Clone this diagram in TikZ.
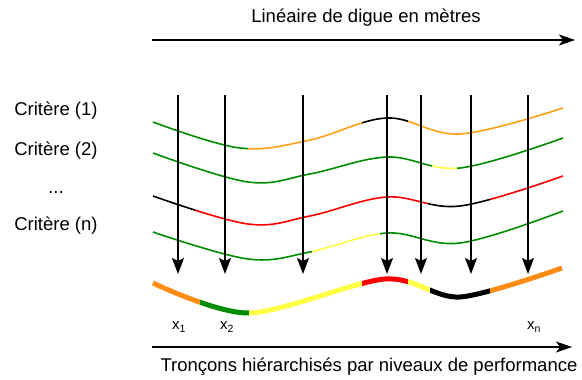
\documentclass[tikz,border=0pt]{standalone}
\usepackage{fontspec}
\setmainfont{Liberation Sans}
\usepackage{xcolor}
\usetikzlibrary{arrows.meta}

\definecolor{critgreen}{RGB}{0,140,0}
\definecolor{critorange}{RGB}{255,160,20}
\definecolor{darkorange}{RGB}{255,140,20}
\definecolor{crityellow}{RGB}{255,255,70}
\definecolor{critred}{RGB}{255,0,0}

\tikzset{
  crit/.style={line width=1.6pt},
  axisarrow/.style={line width=1.4pt,-{Stealth[length=16pt,width=11pt,inset=4pt]}},
  probe/.style={line width=1.5pt,-{Stealth[length=16pt,width=12pt,inset=3pt]}},
  lbl/.style={font=\fontsize{18.5}{22}\selectfont,inner sep=0pt}
}

\begin{document}
\begin{tikzpicture}[x=1pt,y=-1pt]
  \useasboundingbox (0,0) rectangle (582,380);
  % axes
  \node[lbl] (top) at (366,18) {Linéaire de digue en mètres};
  \coordinate (ta) at (152,40);
  \coordinate (tb) at (575,40);
  \draw[axisarrow] (ta) -- (tb);
  \node[lbl] (bot) at (369,367) {Tronçons hiérarchisés par niveaux de performance};
  \coordinate (ba) at (152,347);
  \coordinate (bb) at (572,347);
  \draw[axisarrow] (ba) -- (bb);
  % criteria labels
  \node[lbl] (c1) at (56,111) {Critère (1)};
  \node[lbl] (c2) at (56,151) {Critère (2)};
  \node[lbl] (cd) at (56,193) {...};
  \node[lbl] (cn) at (56,226) {Critère (n)};
  % criteria curves
  \def\curveA{(153,122) (240,148) (310,140) (387,118) (460,134) (563,108)}
  \def\curveB{(153,153) (248,182) (310,174) (387,157) (460,168) (563,138)}
  \def\curveC{(153,196) (248,224) (310,216) (387,197) (460,206) (563,176)}
  \def\curveD{(153,232) (248,259) (310,252) (387,233) (460,243) (563,211)}
  \foreach \crv/\col/\xa/\xb in {
      \curveA/critgreen/140/248, \curveA/critorange/248/362,
      \curveA/black/362/408, \curveA/critorange/408/580,
      \curveB/critgreen/140/432, \curveB/crityellow/432/457,
      \curveB/critgreen/457/580,
      \curveC/black/140/195, \curveC/critred/195/428,
      \curveC/black/428/490, \curveC/critred/490/580,
      \curveD/critgreen/140/312, \curveD/crityellow/312/380,
      \curveD/critgreen/380/580}{
    \begin{scope}
      \clip (\xa,60) rectangle (\xb,330);
      \draw[crit,\col] plot[smooth,tension=0.6] coordinates {\crv};
    \end{scope}
  }
  % synthesis curve
  \def\curveS{(153,283) (249,313) (385,279) (460,297) (562,268)}
  \foreach \col/\xa/\xb in {darkorange/140/200, critgreen/200/249,
      crityellow/249/362, critred/362/408, crityellow/408/430,
      black/430/490, darkorange/490/580}{
    \begin{scope}
      \clip (\xa,60) rectangle (\xb,330);
      \draw[line width=5pt,\col] plot[smooth,tension=0.5] coordinates {\curveS};
    \end{scope}
  }
  % probes
  \foreach \x [count=\i] in {178,225,303,387,421,471,528}{
    \coordinate (p\i) at (\x,95);
    \coordinate (q\i) at (\x,274);
    \draw[probe] (p\i) -- (q\i);
  }
  \node[font=\fontsize{15}{18}\selectfont] (x1) at (179,327) {x\textsubscript{1}};
  \node[font=\fontsize{15}{18}\selectfont] (x2) at (227,327) {x\textsubscript{2}};
  \node[font=\fontsize{15}{18}\selectfont] (xn) at (534,327) {x\textsubscript{n}};
\end{tikzpicture}
\end{document}
